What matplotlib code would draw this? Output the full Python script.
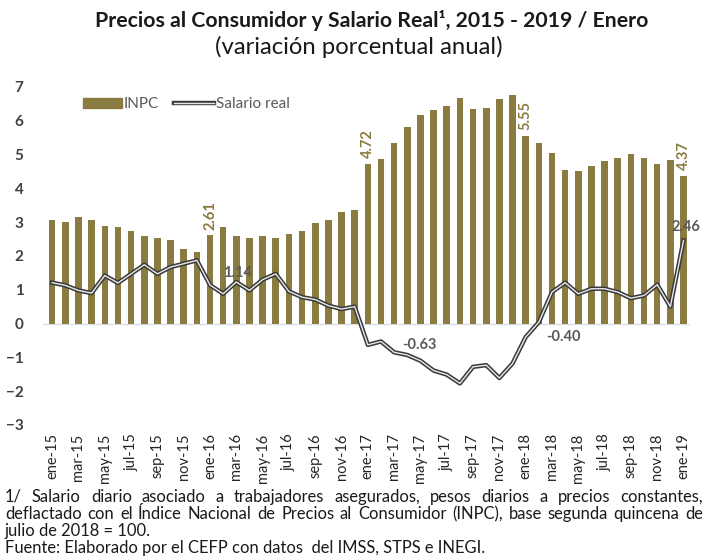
import numpy as np
import matplotlib
matplotlib.use("Agg")
from matplotlib import pyplot as plt
from matplotlib.lines import Line2D
from matplotlib.patches import Patch
from matplotlib.legend_handler import HandlerTuple

plt.rcParams['font.family'] = ['Lato', 'DejaVu Sans']

meses = ['ene', 'feb', 'mar', 'abr', 'may', 'jun',
         'jul', 'ago', 'sep', 'oct', 'nov', 'dic']
periodos = ['{}-{}'.format(m, a) for a in range(15, 19) for m in meses] + ['ene-19']

# INPC, variacion porcentual anual
inpc = [3.07, 3.00, 3.14, 3.06, 2.88, 2.87, 2.74, 2.59, 2.52, 2.48, 2.21, 2.13,
        2.61, 2.87, 2.60, 2.54, 2.60, 2.54, 2.65, 2.73, 2.97, 3.06, 3.31, 3.36,
        4.72, 4.86, 5.35, 5.82, 6.16, 6.31, 6.44, 6.66, 6.35, 6.37, 6.63, 6.77,
        5.55, 5.34, 5.04, 4.55, 4.51, 4.65, 4.81, 4.90, 5.02, 4.90, 4.72, 4.83,
        4.37]

# salario real, variacion porcentual anual
salario = [1.21, 1.13, 0.98, 0.90, 1.42, 1.20, 1.47, 1.74, 1.47, 1.67, 1.77, 1.87,
           1.14, 0.88, 1.23, 0.98, 1.30, 1.47, 0.95, 0.78, 0.71, 0.53, 0.43, 0.50,
           -0.63, -0.53, -0.85, -0.93, -1.10, -1.39, -1.51, -1.77, -1.28, -1.23, -1.61, -1.18,
           -0.40, 0.04, 0.93, 1.21, 0.88, 1.03, 1.03, 0.93, 0.75, 0.83, 1.15, 0.50,
           2.46]

etiquetas_inpc = {'ene-16': 2.61, 'ene-17': 4.72, 'ene-18': 5.55, 'ene-19': 4.37}
# etiqueta: (desplazamiento en puntos x, y)
etiquetas_sal = {'ene-16': (1.14, (20, 9)),
                 'ene-17': (-0.63, (37, 0)),
                 'ene-18': (-0.40, (27, 0)),
                 'ene-19': (2.46, (2, 10))}

notas = ['1/ Salario diario asociado a trabajadores asegurados, pesos diarios a precios constantes,',
         'deflactado con el \u00cdndice Nacional de Precios al Consumidor (INPC), base segunda quincena de',
         'julio de 2018 = 100.',
         'Fuente: Elaborado por el CEFP con datos  del IMSS, STPS e INEGI.']

OLIVA = '#8a7b41'
GRIS = '#595959'
W, H = 708, 557

x = np.arange(len(periodos))

fig = plt.figure(figsize=(W / 100, H / 100), dpi=100)
ax = fig.add_axes([0.0607, 0.237, 0.914, 0.607])

ax.bar(x, inpc, width=0.5, color=OLIVA, zorder=2)
ax.axhline(0, color='#d9dde6', lw=1, zorder=1)
ax.plot(x, salario, color='#3a3a3a', lw=3.2, zorder=3)
ax.plot(x, salario, color='#e8e8e8', lw=1.0, zorder=4)

for per, val in etiquetas_inpc.items():
    i = periodos.index(per)
    ax.annotate('{:.2f}'.format(val), (i, inpc[i]), xytext=(0, 4),
                textcoords='offset points', rotation=90, ha='center', va='bottom',
                color=OLIVA, fontsize=10.5, fontweight='bold')

for per, (val, off) in etiquetas_sal.items():
    i = periodos.index(per)
    ax.annotate('{:.2f}'.format(val), (i, salario[i]), xytext=off,
                textcoords='offset points', ha='center', va='center',
                color=GRIS, fontsize=10.5, fontweight='bold')

ax.set_xlim(-0.7, 48.5)
ax.set_ylim(-3, 7)
ax.set_yticks(range(-3, 8))
ax.tick_params(axis='y', length=0, labelsize=11, labelcolor='#404040', pad=14)
for t in ax.get_yticklabels():
    t.set_fontweight('bold')
ax.set_xticks(x[::2])
ax.set_xticklabels(periodos[::2], rotation=90, fontsize=10.5, color='#262626')
ax.tick_params(axis='x', length=0, pad=6)
for s in ax.spines.values():
    s.set_visible(False)

sal_leg = (Line2D([], [], color='#3a3a3a', lw=3.2), Line2D([], [], color='#e8e8e8', lw=1.0))
ax.legend([Patch(color=OLIVA), sal_leg], ['INPC', 'Salario real'],
          handler_map={tuple: HandlerTuple(ndivide=1, pad=0)},
          loc='upper left', bbox_to_anchor=(0.04, 1.01), ncol=2, frameon=False,
          fontsize=11, handlelength=2.6, handletextpad=0.1, columnspacing=1.0,
          labelcolor='#595959')

fig.text(0.525, 0.963, 'Precios al Consumidor y Salario Real\u00b9, 2015 - 2019 / Enero',
         ha='center', va='center', fontsize=15.3, fontweight='bold', color='#1a1a1a')
fig.text(0.507, 0.916, '(variaci\u00f3n porcentual anual)',
         ha='center', va='center', fontsize=17.2, color='#1a1a1a')

# notas al pie, las dos primeras lineas justificadas
renderer = fig.canvas.get_renderer()
izq, der = 5, 703
tam = 11.9
for k, linea in enumerate(notas):
    y = 1 - (497 + 17 * k) / H
    if k >= 2:
        fig.text(izq / W, y, linea, ha='left', va='center', fontsize=tam, color='#1a1a1a')
        continue
    palabras = linea.split(' ')
    textos = [fig.text(0, y, p, ha='left', va='center', fontsize=tam, color='#1a1a1a')
              for p in palabras]
    anchos = [t.get_window_extent(renderer).width for t in textos]
    hueco = (der - izq - sum(anchos)) / (len(palabras) - 1)
    pos = izq
    for t, a in zip(textos, anchos):
        t.set_x(pos / W)
        pos += a + hueco

fig.savefig('out.png', dpi=100)
